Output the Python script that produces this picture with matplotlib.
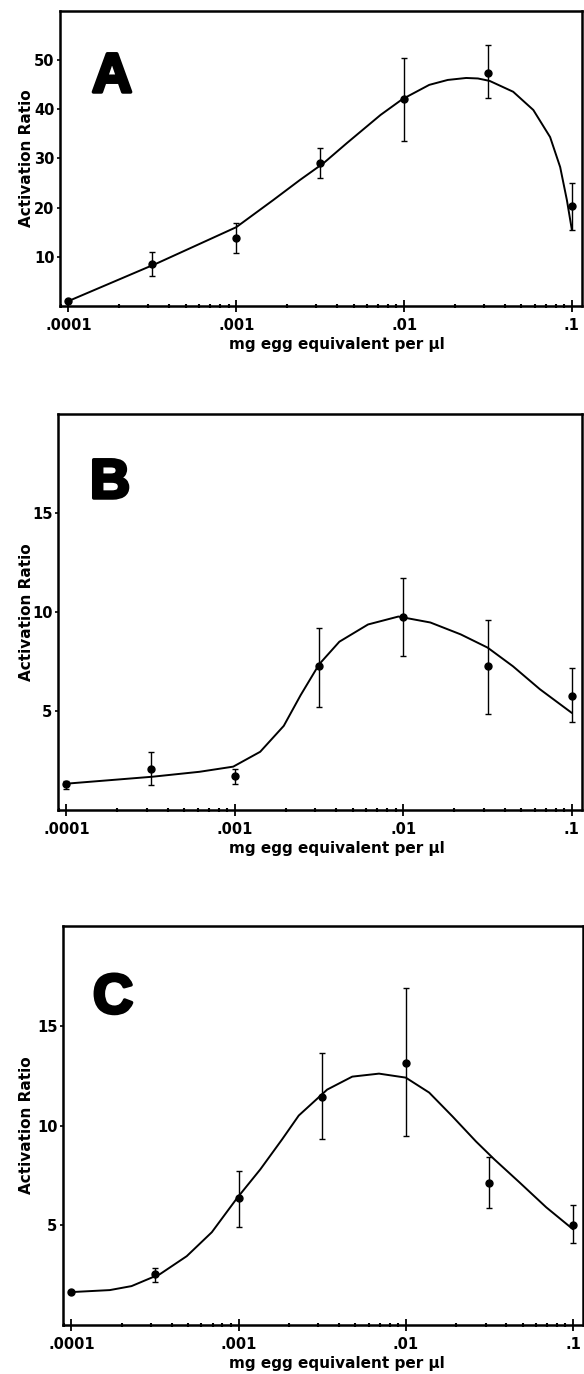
import numpy as np
import matplotlib
matplotlib.use("Agg")
import matplotlib.pyplot as plt
import matplotlib.ticker as mticker
import matplotlib.patheffects as pe

plt.rcParams['font.family'] = ['DejaVu Sans']

# ---------------- data ----------------
conc = [1e-4, 3.16e-4, 1e-3, 3.16e-3, 1e-2, 3.16e-2, 1e-1]

A_mean = [1.0, 8.5, 13.8, 29.0, 42.0, 47.3, 20.3]
A_hi = [1.0, 11.0, 16.9, 32.1, 50.4, 53.0, 25.0]
A_lo = [1.0, 6.1, 10.8, 26.0, 33.5, 42.2, 15.4]

B_mean = [1.33, 2.09, 1.73, 7.26, 9.77, 7.26, 5.75]
B_hi = [1.48, 2.94, 2.09, 9.2, 11.73, 9.6, 7.16]
B_lo = [1.08, 1.28, 1.33, 5.2, 7.8, 4.86, 4.45]

C_mean = [1.65, 2.55, 6.35, 11.45, 13.15, 7.1, 5.0]
C_hi = [1.65, 2.85, 7.7, 13.65, 16.9, 8.4, 6.0]
C_lo = [1.65, 2.15, 4.9, 9.3, 9.45, 5.85, 4.1]

# fitted curves (log10 concentration, activation ratio)
A_curve_logx = [-4.0, -3.47, -3.0, -2.78, -2.62, -2.48, -2.34, -2.14, -2.01, -1.85,
                -1.74, -1.63, -1.56, -1.49, -1.35, -1.23, -1.13, -1.07, -1.03, -1.0]
A_curve_y = [1.0, 8.7, 16.0, 21.5, 25.6, 29.0, 33.1, 38.8, 42.0, 44.9,
             45.9, 46.3, 46.2, 45.7, 43.5, 39.8, 34.3, 28.2, 21.5, 15.4]

B_curve_logx = [-4.0, -3.49, -3.21, -3.01, -2.85, -2.71, -2.61, -2.50, -2.38, -2.21,
                -2.03, -1.84, -1.66, -1.50, -1.35, -1.19, -1.0]
B_curve_y = [1.33, 1.68, 1.93, 2.19, 2.94, 4.25, 5.8, 7.36, 8.5, 9.37,
             9.77, 9.47, 8.87, 8.2, 7.26, 6.1, 4.9]

C_curve_logx = [-4.0, -3.77, -3.64, -3.47, -3.31, -3.16, -3.01, -2.87, -2.74, -2.64,
                -2.47, -2.32, -2.16, -2.0, -1.86, -1.72, -1.58, -1.47, -1.32, -1.16, -1.0]
C_curve_y = [1.65, 1.75, 1.95, 2.55, 3.45, 4.65, 6.35, 7.8, 9.3, 10.5,
             11.8, 12.45, 12.6, 12.4, 11.65, 10.45, 9.2, 8.3, 7.15, 5.9, 4.8]

xtick_vals = [1e-4, 1e-3, 1e-2, 1e-1]
xtick_labels = ['.0001', '.001', '.01', '.1']

panels = [
    dict(letter='A', mean=A_mean, hi=A_hi, lo=A_lo, cx=A_curve_logx, cy=A_curve_y,
         ylim=(0, 60), yticks=[10, 20, 30, 40, 50]),
    dict(letter='B', mean=B_mean, hi=B_hi, lo=B_lo, cx=B_curve_logx, cy=B_curve_y,
         ylim=(0, 20), yticks=[5, 10, 15]),
    dict(letter='C', mean=C_mean, hi=C_hi, lo=C_lo, cx=C_curve_logx, cy=C_curve_y,
         ylim=(0, 20), yticks=[5, 10, 15]),
]

W, H = 584, 1374
# pixel boxes: left, right, top, bottom
boxes = [(60, 582, 10.5, 306), (58, 582, 414, 810), (63, 583, 926, 1325)]
letter_pos = [(92, 92), (90, 498), (93, 1013)]

fig = plt.figure(figsize=(W / 100, H / 100), dpi=100)

for p, (l, r, t, b), (lx, ly) in zip(panels, boxes, letter_pos):
    ax = fig.add_axes([l / W, 1 - b / H, (r - l) / W, (b - t) / H])
    ax.set_xscale('log')
    ax.set_xlim(10 ** -4.05, 10 ** -0.94)
    ax.set_ylim(*p['ylim'])

    ax.plot(10 ** np.array(p['cx']), p['cy'], color='black', lw=1.4, zorder=2,
            solid_joinstyle='round', solid_capstyle='round')
    mean = np.array(p['mean'])
    yerr = [mean - np.array(p['lo']), np.array(p['hi']) - mean]
    ax.errorbar(conc, mean, yerr=yerr, fmt='o', color='black', ms=5,
                elinewidth=1.0, capsize=2, capthick=1.0, zorder=3)

    ax.xaxis.set_major_locator(mticker.FixedLocator(xtick_vals))
    ax.xaxis.set_major_formatter(mticker.FixedFormatter(xtick_labels))
    ax.xaxis.set_minor_locator(mticker.LogLocator(base=10, subs=np.arange(2, 10), numticks=20))
    ax.xaxis.set_minor_formatter(mticker.NullFormatter())
    ax.set_yticks(p['yticks'])
    ax.set_yticklabels([str(v) for v in p['yticks']])

    ax.tick_params(axis='x', which='major', direction='inout', length=9, width=1.3,
                   labelsize=10.5, pad=4)
    ax.tick_params(axis='x', which='minor', direction='inout', length=3.5, width=1.5)
    ax.tick_params(axis='y', which='major', direction='out', length=2, width=1.2,
                   labelsize=10.5, pad=2)
    for lab in ax.get_xticklabels() + ax.get_yticklabels():
        lab.set_fontweight('bold')
    for s in ax.spines.values():
        s.set_linewidth(1.8)

    h = b - t
    w = r - l
    ax.set_ylabel('Activation Ratio', fontsize=11, fontweight='bold')
    ax.yaxis.set_label_coords((34 - l) / w, 0.5)
    ax.set_xlabel('mg egg equivalent per µl', fontsize=11, fontweight='bold')
    ax.xaxis.set_label_coords((337 - l) / w, -31 / h)

    fig.text(lx / W, 1 - ly / H, p['letter'], fontsize=40, fontweight='bold',
             family='Liberation Sans', ha='left', va='baseline',
             path_effects=[pe.withStroke(linewidth=2.5, foreground='black')])

fig.savefig('out.png', dpi=100)
